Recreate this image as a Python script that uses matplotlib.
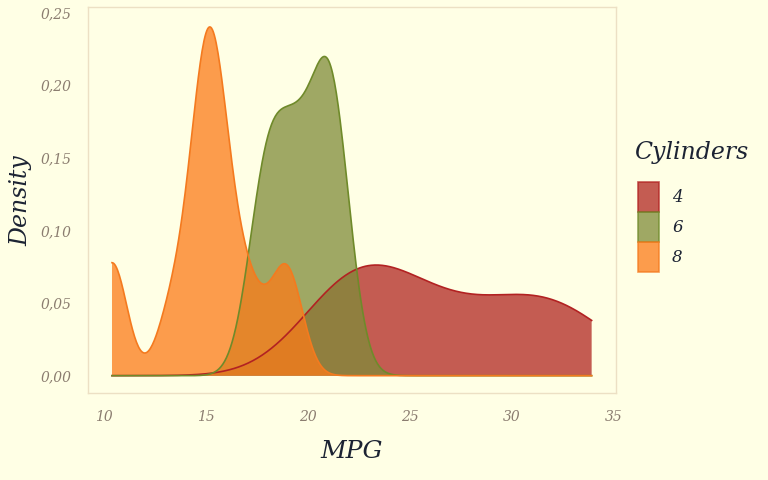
import numpy as np
import matplotlib.pyplot as plt
from matplotlib.patches import Patch

plt.rcParams['font.family'] = 'DejaVu Serif'
plt.rcParams['font.style'] = 'italic'

# mtcars mpg, split by number of cylinders
mpg_4 = [22.8, 24.4, 22.8, 32.4, 30.4, 33.9, 21.5, 27.3, 26.0, 30.4, 21.4]
mpg_6 = [21.0, 21.0, 21.4, 18.1, 19.2, 17.8, 19.7]
mpg_8 = [18.7, 14.3, 16.4, 17.3, 15.2, 10.4, 10.4, 14.7, 15.5, 15.2, 13.3, 19.2, 15.8, 15.0]
groups = ['4', '6', '8']
fills = ['#b02521', '#7f8b39', '#fc7b19']
edges = ['#b22222', '#6f8a2a', '#f47a1f']

bg = '#ffffe5'


def bw_nrd0(x):
    x = np.asarray(x)
    hi = x.std(ddof=1)
    q75, q25 = np.percentile(x, [75, 25])
    lo = min(hi, (q75 - q25) / 1.34)
    return 0.9 * lo * len(x) ** -0.2


def density(x, grid):
    x = np.asarray(x)
    h = bw_nrd0(x)
    z = (grid[:, None] - x[None, :]) / h
    return np.exp(-0.5 * z ** 2).sum(axis=1) / (len(x) * h * np.sqrt(2 * np.pi))


allmpg = mpg_4 + mpg_6 + mpg_8
grid = np.linspace(min(allmpg), max(allmpg), 512)

fig = plt.figure(figsize=(7.68, 4.8), dpi=100, facecolor=bg)
ax = fig.add_axes([0.1146, 0.181, 0.687, 0.804], facecolor=bg)

for data, fc, ec in zip([mpg_4, mpg_6, mpg_8], fills, edges):
    d = density(data, grid)
    ax.fill_between(grid, 0, d, facecolor=fc, alpha=0.75, edgecolor='none')
    ax.plot(grid, d, color=ec, lw=1.2)

ax.set_xlim(9.225, 35.075)
ax.set_ylim(-0.012, 0.2536)
ax.set_xticks([10, 15, 20, 25, 30, 35])
ax.set_yticks([0, 0.05, 0.10, 0.15, 0.20, 0.25])
ax.set_yticklabels(['0,00', '0,05', '0,10', '0,15', '0,20', '0,25'])
ax.tick_params(length=0, colors='#8b7d70', labelsize=10, pad=12)
for s in ax.spines.values():
    s.set_color('#ece0c4')
    s.set_linewidth(1)

ax.set_xlabel('MPG', fontsize=18, color='#1c2333', labelpad=12)
ax.set_ylabel('Density', fontsize=17, color='#1c2333', labelpad=6)

handles = [Patch(facecolor=fc, edgecolor=ec, alpha=0.75, lw=1.2)
           for fc, ec in zip(fills, edges)]
fig.text(0.826, 0.683, 'Cylinders', fontsize=17, color='#1c2333',
         ha='left', va='center')
leg = fig.legend(handles, groups, loc='upper left',
                 bbox_to_anchor=(0.826, 0.627), frameon=False,
                 handlelength=1.26, handleheight=2.39, handletextpad=0.8,
                 labelspacing=0.0, fontsize=12,
                 borderaxespad=0, borderpad=0.2)
for t in leg.get_texts():
    t.set_color('#1c2333')

plt.savefig('out.png', dpi=100, facecolor=bg)
